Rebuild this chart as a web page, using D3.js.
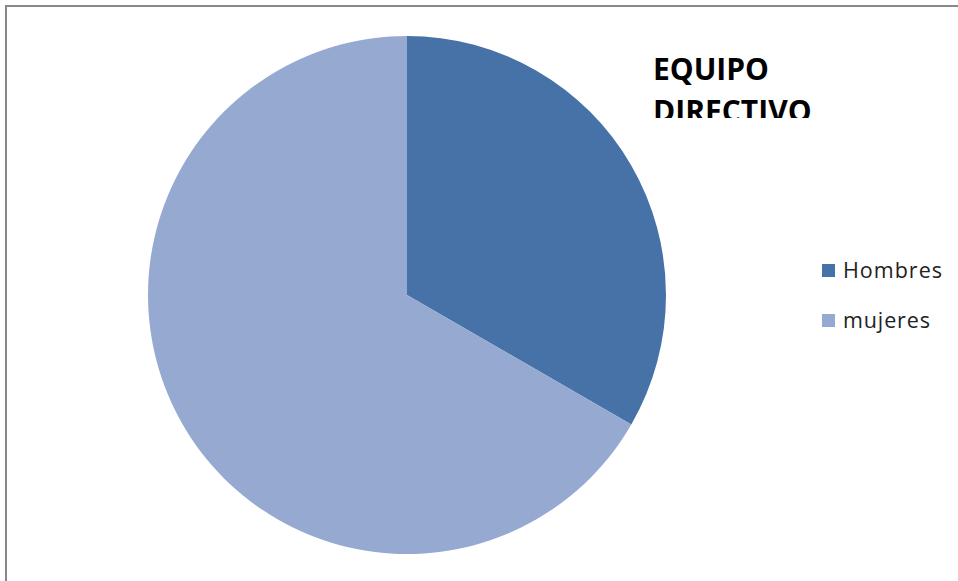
<!DOCTYPE html>
<html>
<head>
<meta charset="utf-8">
<script src="https://cdn.jsdelivr.net/npm/d3@7"></script>
<style>
  body { margin: 0; background: #fff; }
  svg { display: block; }
</style>
</head>
<body>
<div id="chart"></div>
<script>
// data
var categories = ["Hombres", "mujeres"];
var values = [1, 2];
var colors = ["#4672a8", "#95a9d1"];
var title_lines = ["EQUIPO", "DIRECTIVO"];

var width = 958, height = 581;

var svg = d3.select("#chart").append("svg")
    .attr("width", width)
    .attr("height", height);

// chart frame (only top and left edges visible)
svg.append("path")
    .attr("d", "M6,581 V6 H958")
    .attr("fill", "none")
    .attr("stroke", "#888")
    .attr("stroke-width", 2);

// pie
var cx = 407, cy = 295, radius = 259;

var pie = d3.pie().sort(null).value(function(d) { return d; });
var arc = d3.arc().innerRadius(0).outerRadius(radius);

var pie_g = svg.append("g")
    .attr("transform", "translate(" + cx + "," + cy + ")");

pie_g.selectAll("path")
    .data(pie(values))
    .enter().append("path")
    .attr("d", arc)
    .attr("fill", function(d, i) { return colors[i]; });

// title, clipped like the original text box
svg.append("clipPath").attr("id", "title_clip")
    .append("rect")
    .attr("x", 600).attr("y", 40)
    .attr("width", 300).attr("height", 78);

var title = svg.append("text")
    .attr("clip-path", "url(#title_clip)")
    .attr("font-family", "'Open Sans', sans-serif")
    .attr("font-weight", "bold")
    .attr("font-size", 30)
    .attr("fill", "#000");

title.selectAll("tspan")
    .data(title_lines)
    .enter().append("tspan")
    .attr("x", 653)
    .attr("y", function(d, i) { return 80 + i * 42; })
    .text(function(d) { return d; });

// legend
var legend = svg.append("g")
    .attr("transform", "translate(822,264)");

var items = legend.selectAll("g")
    .data(categories)
    .enter().append("g")
    .attr("transform", function(d, i) { return "translate(0," + i * 50 + ")"; });

items.append("rect")
    .attr("width", 13)
    .attr("height", 13)
    .attr("fill", function(d, i) { return colors[i]; });

items.append("text")
    .attr("x", 21)
    .attr("y", 14)
    .attr("font-family", "'Open Sans', sans-serif")
    .attr("font-size", 21.5)
    .attr("fill", "#222")
    .attr("textLength", function(d, i) { return i == 0 ? 99 : 87; })
    .attr("lengthAdjust", "spacing")
    .text(function(d) { return d; });
</script>
</body>
</html>
